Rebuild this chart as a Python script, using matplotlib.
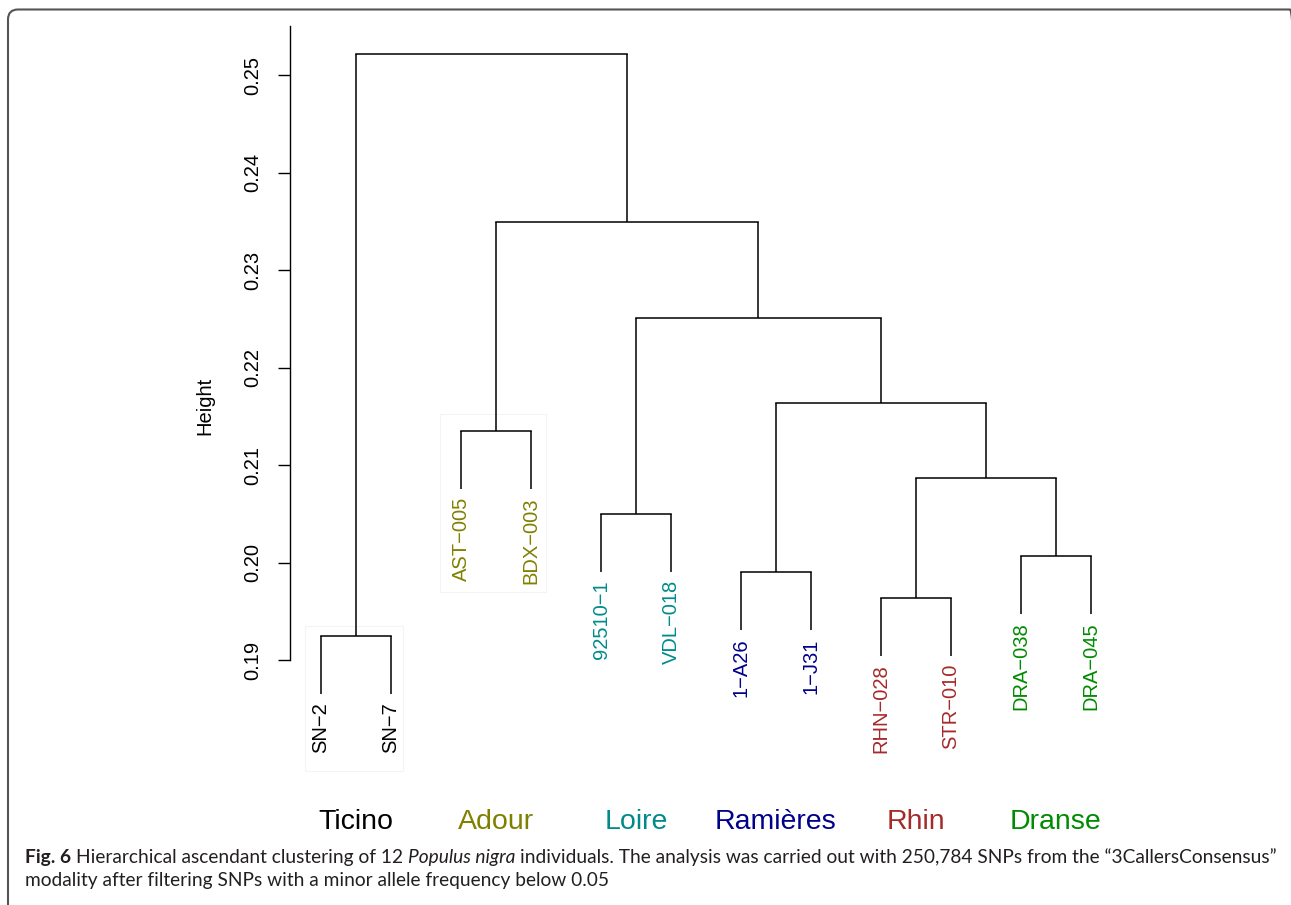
import numpy as np
import matplotlib
matplotlib.use("Agg")
import matplotlib.pyplot as plt
from matplotlib.patches import FancyBboxPatch, Rectangle
from matplotlib.transforms import IdentityTransform, ScaledTranslation, blended_transform_factory

#--------data
leaves = ["SN\u22122", "SN\u22127", "AST\u2212005", "BDX\u2212003", "92510\u22121", "VDL\u2212018",
          "1\u2212A26", "1\u2212J31", "RHN\u2212028", "STR\u2212010", "DRA\u2212038", "DRA\u2212045"]
leaf_group = [0, 0, 1, 1, 2, 2, 3, 3, 4, 4, 5, 5]
groups = ["Ticino", "Adour", "Loire", "Rami\u00e8res", "Rhin", "Dranse"]
group_colors = ["#000000", "#808000", "#008b8b", "#00008b", "#a52a2a", "#008b00"]

# R-style merge matrix: negative = leaf (1-based), positive = earlier merge (1-based)
merge = [(-1, -2), (-3, -4), (-5, -6), (-7, -8), (-9, -10), (-11, -12),
         (5, 6), (4, 7), (3, 8), (2, 9), (1, 10)]
heights = [0.1925, 0.2135, 0.2050, 0.1990, 0.1964, 0.2007,
           0.2087, 0.2164, 0.2251, 0.2349, 0.2522]
hang = 0.1 * (max(heights) - min(heights))

yticks = [0.19, 0.20, 0.21, 0.22, 0.23, 0.24, 0.25]

caption1 = [("Fig. 6", "bold", "normal"),
            ("Hierarchical ascendant clustering of 12", "normal", "normal"),
            ("Populus nigra", "normal", "italic"),
            ("individuals. The analysis was carried out with 250,784 SNPs from the \u201c3CallersConsensus\u201d",
             "normal", "normal")]
caption2 = "modality after filtering SNPs with a minor allele frequency below 0.05"

#--------figure
W, H = 1291, 905
fig = plt.figure(figsize=(W / 100, H / 100), dpi=100)
plt.rcParams['font.family'] = ['Liberation Sans', 'DejaVu Sans']

ylo, yhi = 0.1825, 0.2555
ax_bot = 75 + (0.25 - ylo) * 9750
ax_top = 75 - (yhi - 0.25) * 9750
ax = fig.add_axes([290 / W, 1 - ax_bot / H, (1122 - 290) / W, (ax_bot - ax_top) / H])
ax.set_xlim(0.557, 12.443)
ax.set_ylim(ylo, yhi)
for s in ["top", "right", "bottom"]:
    ax.spines[s].set_visible(False)
ax.spines["left"].set_bounds(0.19, 0.255)
ax.spines["left"].set_linewidth(1.0)
ax.set_xticks([])
ax.set_yticks(yticks)
ax.set_yticklabels(["%.2f" % v for v in yticks])
ax.tick_params(axis="y", length=8.6, width=1.0, pad=11.5, labelsize=14.5, labelrotation=90)
for lab in ax.get_yticklabels():
    lab.set_va("center")
fig.text(205 / W, 1 - 406 / H, "Height", rotation=90, ha="center", va="center", fontsize=14.5)

# draw the tree
node_x = {}
lw = 1.1
for k, (a, b) in enumerate(merge):
    h = heights[k]
    xs = []
    for c in (a, b):
        if c < 0:
            x = -c
            ax.plot([x, x], [h, h - hang], color="black", lw=lw, solid_capstyle="butt")
            g = leaf_group[-c - 1]
            off = ScaledTranslation(0, -0.08, fig.dpi_scale_trans)
            ax.text(x, h - hang, leaves[-c - 1], rotation=90, ha="center", va="top",
                    fontsize=14.5, color=group_colors[g], transform=ax.transData + off,
                    clip_on=False)
        else:
            x = node_x[c]
            ax.plot([x, x], [h, heights[c - 1]], color="black", lw=lw, solid_capstyle="butt")
        xs.append(x)
    ax.plot(xs, [h, h], color="black", lw=lw, solid_capstyle="projecting")
    node_x[k + 1] = (xs[0] + xs[1]) / 2

# faint paste boxes around two sub-trees
for k, (l, r) in [(0, (0.23, 0.17)), (1, (0.3, 0.21))]:
    a, b = -merge[k][0], -merge[k][1]
    h = heights[k]
    y_top = h + 0.001 if k == 0 else h + 0.0017
    y_bot = h - hang - 0.0079 if k == 0 else h - hang - 0.0106
    ax.add_patch(Rectangle((a - l, y_bot), (b + r) - (a - l), y_top - y_bot, fill=False,
                           ec="#f4f4f4", lw=0.8, clip_on=False, zorder=0))

# group names
tr = blended_transform_factory(ax.transData, fig.transFigure)
for g, name in enumerate(groups):
    xs = [i + 1 for i, gg in enumerate(leaf_group) if gg == g]
    ax.text(np.mean(xs), 1 - 822 / H, name, ha="center", va="center", fontsize=20.5,
            color=group_colors[g], transform=tr, clip_on=False)

# frame
fig.patches.append(FancyBboxPatch((8, -30), 1292, H - 9.5 + 30,
                                  boxstyle="round,pad=0,rounding_size=10",
                                  transform=IdentityTransform(), fill=False,
                                  ec="#555555", lw=1.5))

# caption
renderer = fig.canvas.get_renderer()
cap_font = ["Lato", "DejaVu Sans"]
cap_col = "#231f20"


def width_of(txt, size, weight="normal", style="normal"):
    t = fig.text(0, 0, txt, fontsize=size, fontweight=weight, fontstyle=style, family=cap_font)
    w = t.get_window_extent(renderer).width
    t.remove()
    return w


base = 12
space = width_of("a a", base) - width_of("aa", base)
total = sum(width_of(t, base, w, s) for t, w, s in caption1) + space * (len(caption1) - 1)
size = base * (1277 - 25) / total

x = 25
space = width_of("a a", size) - width_of("aa", size)
for t, w, s in caption1:
    txt = fig.text(x / W, 1 - 863 / H, t, fontsize=size, fontweight=w, fontstyle=s,
                   family=cap_font, color=cap_col, ha="left", va="baseline")
    x += txt.get_window_extent(renderer).width + space
fig.text(25 / W, 1 - 885.5 / H, caption2, fontsize=size, family=cap_font, color=cap_col,
         ha="left", va="baseline")

fig.savefig("out.png", dpi=100)
